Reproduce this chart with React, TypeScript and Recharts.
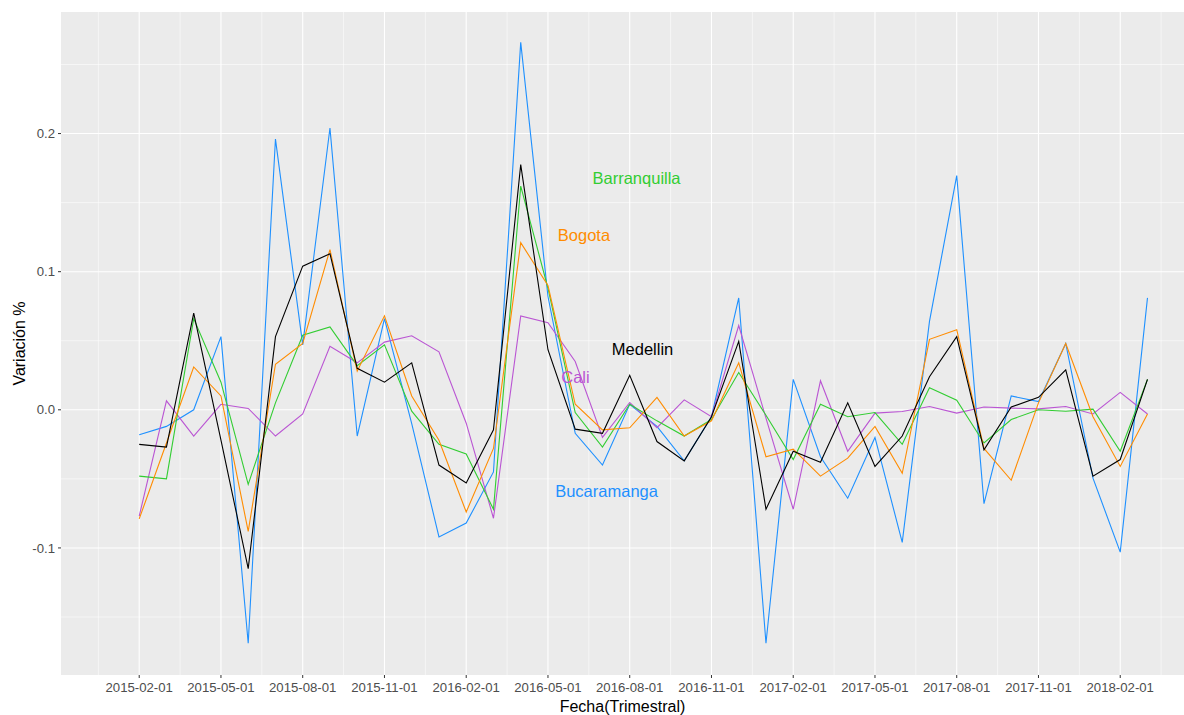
import {
  LineChart,
  Line,
  XAxis,
  YAxis,
  CartesianGrid,
  ReferenceDot,
} from "recharts";

// monthly variation, Feb 2015 .. Mar 2018 (index 0 = 2015-02-01)
const medellin = [
  -0.025, -0.027, 0.07, -0.022, -0.115, 0.053, 0.104, 0.113, 0.03, 0.02, 0.034, -0.04, -0.053,
  -0.0145, 0.1775, 0.0435, -0.014, -0.017, 0.025, -0.023, -0.037, -0.005, 0.0495, -0.072, -0.03,
  -0.038, 0.005, -0.041, -0.019, 0.024, 0.053, -0.029, 0.002, 0.009, 0.029, -0.048, -0.036, 0.022,
];
const barranquilla = [
  -0.048, -0.05, 0.066, 0.02, -0.054, 0.005, 0.054, 0.06, 0.032, 0.047, -0.001, -0.025, -0.032,
  -0.072, 0.162, 0.088, -0.002, -0.027, 0.004, -0.008, -0.019, -0.007, 0.027, -0.004, -0.036,
  0.004, -0.005, -0.002, -0.025, 0.016, 0.007, -0.024, -0.007, 0.0, -0.001, 0.0005, -0.03, 0.022,
];
const bogota = [
  -0.079, -0.024, 0.031, 0.01, -0.088, 0.033, 0.048, 0.116, 0.028, 0.068, 0.01, -0.022, -0.074,
  -0.028, 0.121, 0.09, 0.004, -0.0145, -0.013, 0.009, -0.019, -0.008, 0.034, -0.034, -0.0285,
  -0.048, -0.035, -0.012, -0.046, 0.051, 0.058, -0.028, -0.051, 0.005, 0.048, -0.005, -0.041, -0.003,
];
const cali = [
  -0.077, 0.0065, -0.019, 0.004, 0.001, -0.019, -0.003, 0.046, 0.034, 0.049, 0.0536, 0.042, -0.0097,
  -0.0785, 0.068, 0.063, 0.035, -0.02, 0.0053, -0.013, 0.0072, -0.005, 0.061, -0.006, -0.072, 0.021,
  -0.03, -0.0024, -0.0012, 0.0024, -0.0024, 0.002, 0.0012, 0.0007, 0.0024, -0.003, 0.0126, -0.003,
];
const bucaramanga = [
  -0.018, -0.012, 0.0, 0.053, -0.169, 0.196, 0.047, 0.204, -0.019, 0.066, -0.01, -0.092, -0.082,
  -0.045, 0.266, 0.082, -0.017, -0.04, 0.004, -0.012, -0.037, -0.005, 0.081, -0.169, 0.022, -0.034,
  -0.064, -0.02, -0.096, 0.064, 0.1696, -0.068, 0.01, 0.006, 0.048, -0.0495, -0.103, 0.081,
];

const tickLabels = [
  "2015-02-01", "2015-05-01", "2015-08-01", "2015-11-01", "2016-02-01", "2016-05-01", "2016-08-01",
  "2016-11-01", "2017-02-01", "2017-05-01", "2017-08-01", "2017-11-01", "2018-02-01",
];
const xTicks = tickLabels.map((_, i) => i * 3);
const xMinor = [-1.5, ...xTicks.map((t) => t + 1.5)];
const yTicks = [-0.1, 0, 0.1, 0.2];
const yMinor = [-0.15, -0.05, 0.05, 0.15, 0.25];

const series = [
  { key: "Bucaramanga", values: bucaramanga, color: "#1E90FF" },
  { key: "Cali", values: cali, color: "#BA55D3" },
  { key: "Barranquilla", values: barranquilla, color: "#32CD32" },
  { key: "Bogota", values: bogota, color: "#FF8C00" },
  { key: "Medellin", values: medellin, color: "#000000" },
];

// text annotations (month index, value)
const notes = [
  { text: "Barranquilla", x: 18.25, y: 0.1674, color: "#32CD32" },
  { text: "Bogota", x: 16.32, y: 0.1268, color: "#FF8C00" },
  { text: "Medellin", x: 18.47, y: 0.0442, color: "#000000" },
  { text: "Cali", x: 16.01, y: 0.0239, color: "#BA55D3" },
  { text: "Bucaramanga", x: 17.15, y: -0.0587, color: "#1E90FF" },
];

const data = medellin.map((_, i) => {
  const row: Record<string, number> = { idx: i };
  series.forEach((s) => (row[s.key] = s.values[i]));
  return row;
});

const FONT = "'Liberation Sans', Arial, sans-serif";

const YTitle = (props: any) => {
  const { viewBox } = props;
  const cy = viewBox.y + viewBox.height / 2;
  const cx = viewBox.x + 19;
  return (
    <text x={cx} y={cy} transform={`rotate(-90, ${cx}, ${cy})`} textAnchor="middle"
      dominantBaseline="central" fontSize={16} fontFamily={FONT} fill="#000">
      Variación %
    </text>
  );
};

const XTitle = (props: any) => {
  const { viewBox } = props;
  return (
    <text x={viewBox.x + viewBox.width / 2} y={viewBox.y + 37} textAnchor="middle"
      fontSize={16} fontFamily={FONT} fill="#000">
      Fecha(Trimestral)
    </text>
  );
};

export default function App() {
  return (
    <div style={{ position: "absolute", left: 0, top: 0, width: 1184, height: 715, background: "#fff" }}>
      <LineChart width={1184} height={715} data={data} margin={{ top: 12, right: 0, left: 0, bottom: 0 }}>
        <CartesianGrid fill="#EBEBEB" stroke="#fff" strokeWidth={0.55}
          verticalValues={xMinor} horizontalValues={yMinor} />
        <CartesianGrid stroke="#fff" strokeWidth={1.1}
          verticalValues={xTicks} horizontalValues={yTicks} />
        <XAxis
          dataKey="idx"
          type="number"
          domain={[-2.87, 38.34]}
          allowDataOverflow
          ticks={xTicks}
          tickFormatter={(v: number) => tickLabels[Math.round(v / 3)]}
          height={40}
          axisLine={false}
          tickSize={3}
          tickMargin={5}
          tickLine={{ stroke: "#333" }}
          tick={{ fill: "#4D4D4D", fontSize: 13.2, fontFamily: FONT }}
          label={<XTitle />}
        />
        <YAxis
          type="number"
          domain={[-0.192, 0.288]}
          allowDataOverflow
          ticks={yTicks}
          tickFormatter={(v: number) => v.toFixed(1)}
          width={61}
          axisLine={false}
          tickSize={3}
          tickMargin={3}
          tickLine={{ stroke: "#333" }}
          tick={{ fill: "#4D4D4D", fontSize: 13.2, fontFamily: FONT }}
          label={<YTitle />}
        />
        {series.map((s) => (
          <Line key={s.key} type="linear" dataKey={s.key} stroke={s.color} strokeWidth={1.1}
            dot={false} isAnimationActive={false} />
        ))}
        {notes.map((n) => (
          <ReferenceDot key={n.text} x={n.x} y={n.y} r={0} fill="none" stroke="none"
            label={{ value: n.text, position: "center", fill: n.color, fontSize: 16.5, fontFamily: FONT }} />
        ))}
      </LineChart>
    </div>
  );
}
